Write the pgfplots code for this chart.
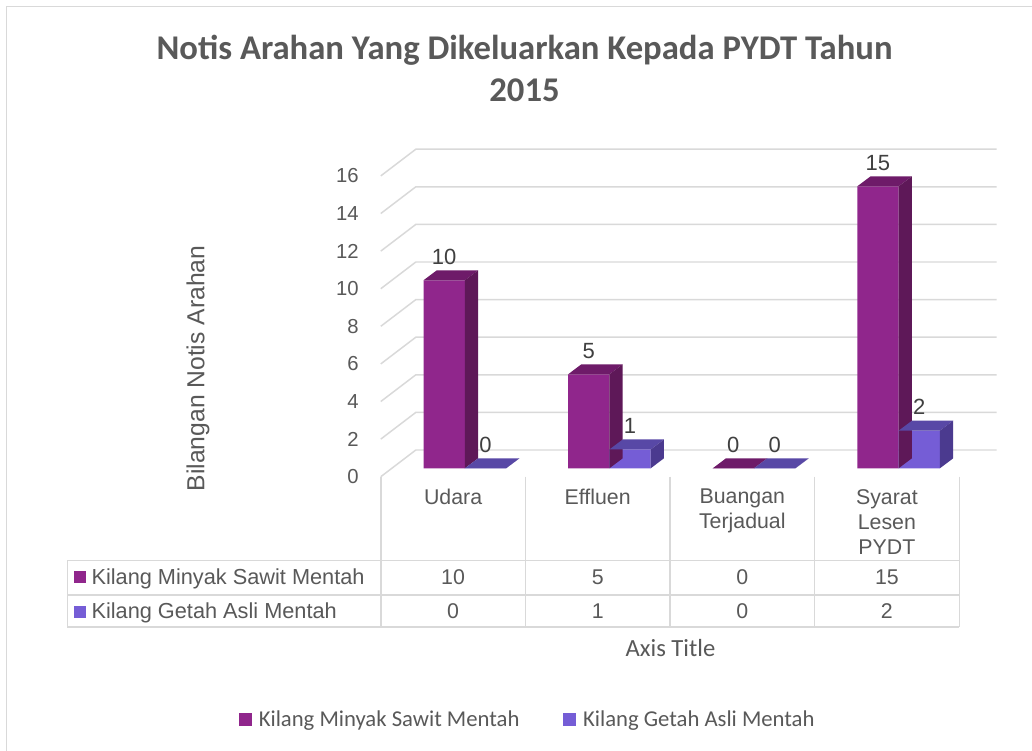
\documentclass[border=0pt]{standalone}
\usepackage{pgfplots}
\pgfplotsset{compat=1.18}
\usepackage{pgfplotstable}
\usepackage{fontspec}
\setmainfont{Liberation Sans}
\newfontfamily\carlito{Carlito}
\definecolor{txt}{HTML}{595959}
\definecolor{lbl}{HTML}{404040}
\definecolor{gridc}{HTML}{D9D9D9}
\definecolor{cP}{HTML}{90268C}
\definecolor{cPtop}{HTML}{6E1B69}
\definecolor{cPside}{HTML}{5E1858}
\definecolor{cB}{HTML}{755DD6}
\definecolor{cBtop}{HTML}{5848A6}
\definecolor{cBside}{HTML}{4B3A8F}
\newcommand\pp[2]{({(#1)*0.75pt},{(750-(#2))*0.75pt})}
% 3D faces (top and side) of a bar, drawn as a mark at the bar's top (x, value)
\newcommand\cubefaces[3]{%
  \pgfmathsetmacro\hh{\hv*14.1}%
  \pgfmathsetmacro\Lx{#1}\pgfmathsetmacro\Rx{#1+30.97}%
  \pgfmathsetmacro\Ldx{\Lx+9.975}\pgfmathsetmacro\Rdx{\Rx+9.975}%
  \pgfmathsetmacro\Rdh{7.5-\hh}\pgfmathsetmacro\mh{-\hh}%
  \pgfsetfillcolor{#2}%
  \pgfpathmoveto{\pgfpoint{\Lx pt}{0pt}}%
  \pgfpathlineto{\pgfpoint{\Rx pt}{0pt}}%
  \pgfpathlineto{\pgfpoint{\Rdx pt}{7.5pt}}%
  \pgfpathlineto{\pgfpoint{\Ldx pt}{7.5pt}}%
  \pgfpathclose\pgfusepath{fill}%
  \pgfsetfillcolor{#3}%
  \pgfpathmoveto{\pgfpoint{\Rx pt}{0pt}}%
  \pgfpathlineto{\pgfpoint{\Rdx pt}{7.5pt}}%
  \pgfpathlineto{\pgfpoint{\Rdx pt}{\Rdh pt}}%
  \pgfpathlineto{\pgfpoint{\Rx pt}{\mh pt}}%
  \pgfpathclose\pgfusepath{fill}%
}
\pgfdeclareplotmark{cubeP}{\cubefaces{-30.97}{cPtop}{cPside}}
\pgfdeclareplotmark{cubeB}{\cubefaces{0}{cBtop}{cBside}}
\pgfplotsset{sq legend/.style={legend image code/.code={\fill[##1] (0pt,-4.875pt) rectangle (9.75pt,4.875pt);}}}
\pgfplotstableread{
x kms kga
0 10 0
1 5 1
2 0 0
3 15 2
}\data
\begin{document}
\begin{tikzpicture}
\useasboundingbox (0,0) rectangle (774pt,562.5pt);
\fill[white] (0,0) rectangle (774pt,562.5pt);
\draw[gridc, line width=1.1pt] \pp{6.7}{752} -- \pp{6.7}{6.7} -- \pp{1034}{6.7};
% title
\node[anchor=base, inner sep=0pt, font=\carlito\bfseries\fontsize{26}{30}\selectfont, text=txt] at \pp{524.5}{59.3} {Notis Arahan Yang Dikeluarkan Kepada PYDT Tahun};
\node[anchor=base, inner sep=0pt, font=\carlito\bfseries\fontsize{26}{30}\selectfont, text=txt] at \pp{524.5}{101.7} {2015};
% data table grid
\begin{scope}[gridc, line width=1.2pt]
\draw \pp{67.3}{560.7} -- \pp{959.3}{560.7};
\draw \pp{67.3}{595} -- \pp{959.3}{595};
\draw \pp{67.3}{627.3} -- \pp{959.3}{627.3};
\draw \pp{67.3}{560.7} -- \pp{67.3}{627.3};
\foreach \xx in {381,525.4,670,814.6,959.3} {\draw \pp{\xx}{476.7} -- \pp{\xx}{627.3};}
\end{scope}
\fill[cP] \pp{74}{571.5} rectangle \pp{85.7}{583.2};
\node[anchor=base west, inner sep=0pt, font=\fontsize{16.3}{19}\selectfont, text=txt] at \pp{91.3}{584.3} {Kilang Minyak Sawit Mentah};
\fill[cB] \pp{74}{605.9} rectangle \pp{85.7}{617.6};
\node[anchor=base west, inner sep=0pt, font=\fontsize{16.3}{19}\selectfont, text=txt] at \pp{91.3}{618.7} {Kilang Getah Asli Mentah};
\node[anchor=base, inner sep=0pt, font=\carlito\fontsize{18.5}{22}\selectfont, text=txt] at \pp{670.5}{656.7} {Axis Title};
\begin{axis}[
  x=108.45pt, y=14.1pt,
  xmin=-0.5, xmax=3.5, ymin=0, ymax=16,
  anchor=south west, at={(294.375pt,211.275pt)},
  clip=false,
  axis line style={draw=none},
  major tick length=0pt,
  ytick={0,2,...,16},
  xtick={0,1,2,3},
  xticklabels={Udara,Effluen,{Buangan\\Terjadual},{Syarat\\Lesen\\PYDT}},
  xticklabel style={align=center, anchor=north, inner sep=0pt, xshift=-8.775pt, yshift=-15.5pt, font=\fontsize{16}{18.75}\selectfont, text=txt},
  yticklabel style={anchor=east, inner sep=0pt, xshift=-25.1pt, yshift=-6.3pt, font=\fontsize{15.2}{18}\selectfont, text=txt},
  /pgf/number format/assume math mode=true,
  ylabel={Bilangan Notis Arahan},
  every axis y label/.style={at={(axis description cs:-0.3363,0.3318)}, rotate=90, anchor=center, font=\fontsize{18.5}{22}\selectfont, text=txt},
  legend style={at={(axis description cs:0.2345,-0.835)}, anchor=center, draw=none, fill=none, legend columns=2, inner sep=0pt,
    font=\carlito\fontsize{17}{20}\selectfont, text=txt,
    /tikz/every odd column/.append style={column sep=3pt},
    /tikz/every even column/.append style={column sep=31pt}},
  legend cell align=left,
]
% back wall and side wall gridlines
\pgfplotsinvokeforeach{0,2,4,6,8,10,12,14,16}{
  \draw[gridc, line width=1.1pt] ([xshift=-8.775pt,yshift=-6.3pt]axis cs:-0.5,#1) -- ([xshift=17.5pt,yshift=13.725pt]axis cs:-0.5,#1) -- ([xshift=19.3pt,yshift=13.725pt]axis cs:3.5,#1);
}
% series 1
\addplot[ybar, bar width=0.2856, bar shift=-0.1428, fill=cP, draw=none, sq legend,
  nodes near coords, nodes near coords align={anchor=center},
  every node near coord/.append style={xshift=-15.5pt, yshift=17.6pt, font=\fontsize{16.5}{19}\selectfont, text=lbl}]
  table[x=x, y=kms] {\data};
\addlegendentry{Kilang Minyak Sawit Mentah}
\addplot[only marks, mark=cubeP, forget plot, visualization depends on={\thisrow{kms} \as \hv}]
  table[x=x, y=kms] {\data};
% series 2
\addplot[ybar, bar width=0.2856, bar shift=0.1428, fill=cB, draw=none, sq legend,
  nodes near coords, nodes near coords align={anchor=center},
  every node near coord/.append style={xshift=15.5pt, yshift=17.6pt, font=\fontsize{16.5}{19}\selectfont, text=lbl}]
  table[x=x, y=kga] {\data};
\addlegendentry{Kilang Getah Asli Mentah}
\addplot[only marks, mark=cubeB, forget plot, visualization depends on={\thisrow{kga} \as \hv}]
  table[x=x, y=kga] {\data};
% data table values
\addplot[draw=none, forget plot, point meta=explicit, nodes near coords, nodes near coords align={anchor=base},
  every node near coord/.append style={inner sep=0pt, xshift=-8.775pt, font=\fontsize{16}{19}\selectfont, text=txt}]
  table[x=x, y expr=-6.17, meta=kms] {\data};
\addplot[draw=none, forget plot, point meta=explicit, nodes near coords, nodes near coords align={anchor=base},
  every node near coord/.append style={inner sep=0pt, xshift=-8.775pt, font=\fontsize{16}{19}\selectfont, text=txt}]
  table[x=x, y expr=-8.0, meta=kga] {\data};
\end{axis}
\end{tikzpicture}
\end{document}
